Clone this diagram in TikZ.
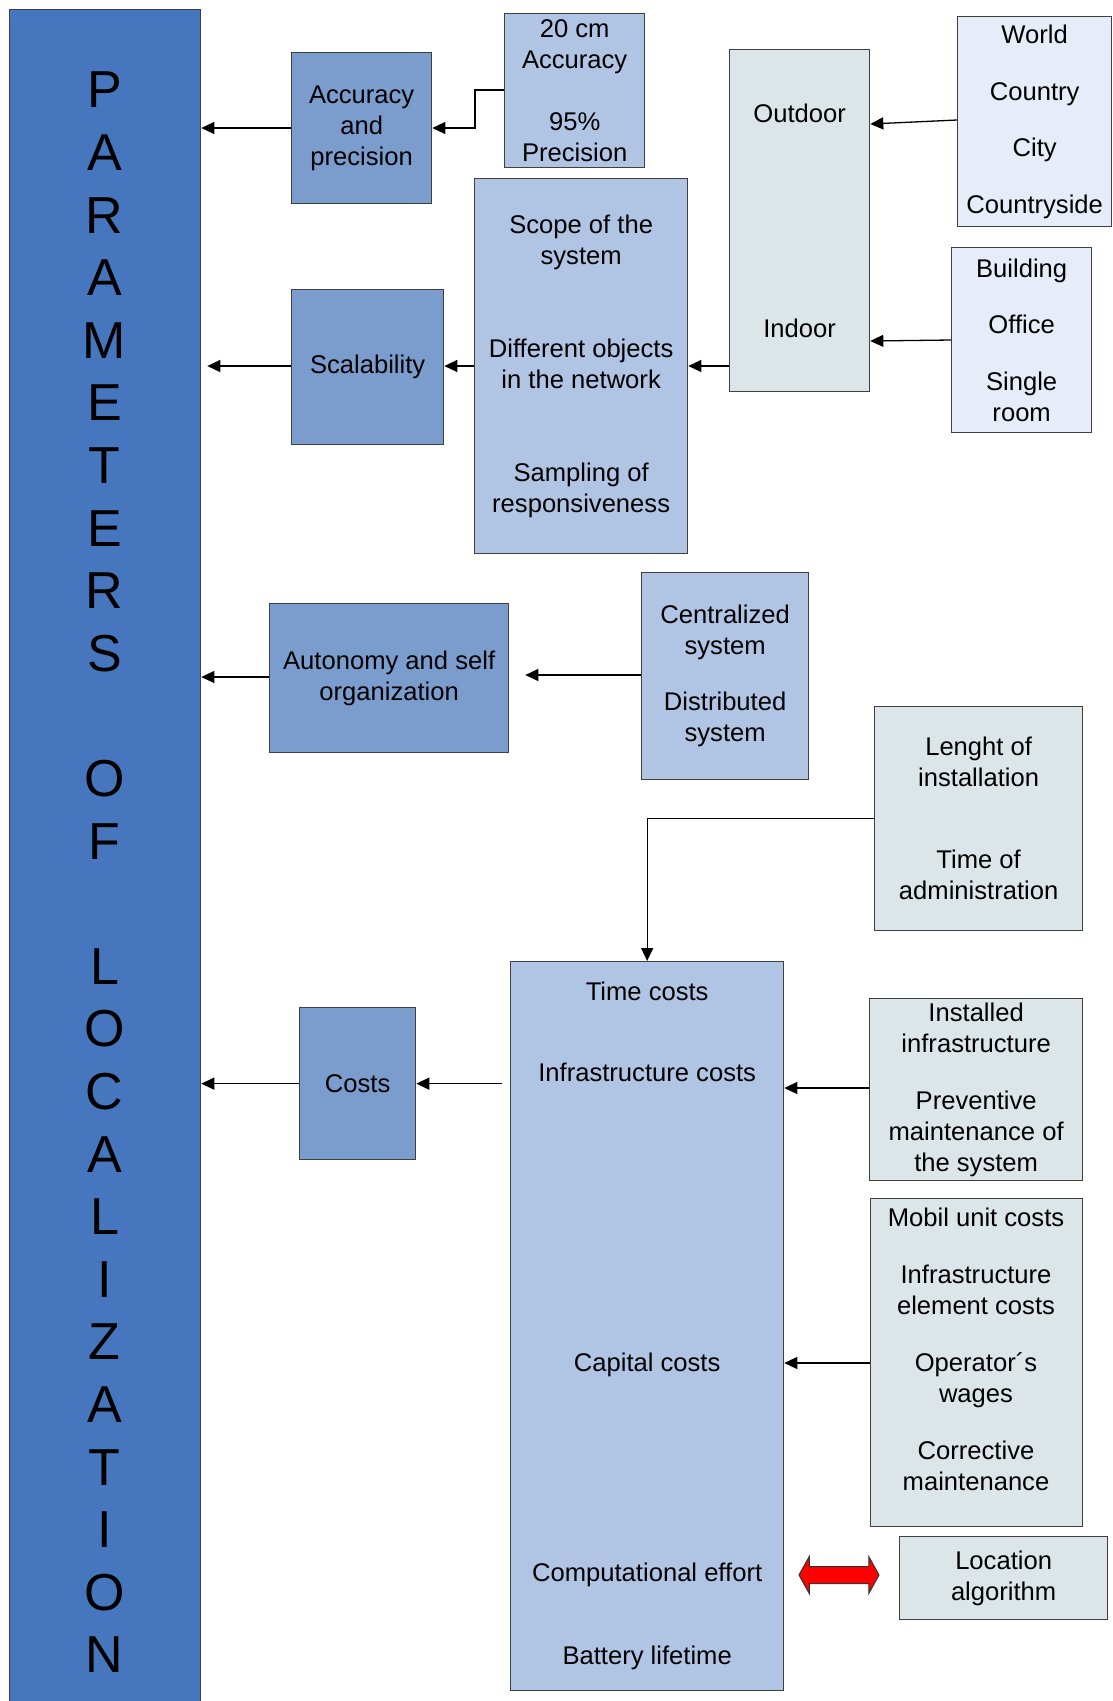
\documentclass[tikz,border=0pt]{standalone}
\usepackage{fontspec}
\setmainfont{Liberation Sans}
\usepackage{tikz}
\usetikzlibrary{arrows.meta}
\usetikzlibrary{shapes.arrows}
\definecolor{barblue}{RGB}{70,119,190}
\definecolor{midblue}{RGB}{123,157,206}
\definecolor{lightblue}{RGB}{176,196,228}
\definecolor{greyblue}{RGB}{220,230,232}
\definecolor{paleblue}{RGB}{230,236,248}

\begin{document}
\begin{tikzpicture}[x=1pt, y=-1pt,
        txt/.style={align=center, font=\fontsize{25.6}{31}\selectfont},
        box/.style={txt, draw=black!75, line width=1.3pt, anchor=north west, inner sep=0pt},
        arr/.style={-{Triangle[length=13pt,width=12pt]}, line width=1.3pt}]
        \useasboundingbox (0,0) rectangle (1113,1701);
        \node[box, fill=barblue, minimum width=191, minimum height=1700] (bar) at (9,9) {};
        \node[align=center, font=\fontsize{52}{62.6}\selectfont] (title) at (104.5,872.5) {P\\A\\R\\A\\M\\E\\T\\E\\R\\S\\~\\O\\F\\~\\L\\O\\C\\A\\L\\I\\Z\\A\\T\\I\\O\\N};
        \node[box, fill=midblue, minimum width=140, minimum height=151] (accprec) at (291,52) {Accuracy\\and\\precision};
        \node[box, fill=lightblue, minimum width=140, minimum height=154] (cm20) at (504,13) {20 cm\\Accuracy\\~\\95\%\\Precision};
        \node[box, fill=greyblue, minimum width=140, minimum height=342] (place) at (729,49) {Outdoor\\[184pt]Indoor};
        \node[box, fill=paleblue, minimum width=154, minimum height=210] (outdoor) at (957,16) {World\\[25.5pt]Country\\[25.5pt]City\\[25.5pt]Countryside};
        \node[box, fill=paleblue, minimum width=140, minimum height=185] (indoor) at (951,247) {Building\\[25.5pt]Office\\[25.5pt]Single\\room};
        \node[box, fill=lightblue, minimum width=213, minimum height=375] (scope) at (474,178) {Scope of the\\system\\[62pt]Different objects\\in the network\\[62pt]Sampling of\\responsiveness};
        \node[box, fill=midblue, minimum width=152, minimum height=155] (scal) at (291,289) {Scalability};
        \node[box, fill=midblue, minimum width=239, minimum height=149] (auton) at (269,603) {Autonomy and self\\organization};
        \node[box, fill=lightblue, minimum width=167, minimum height=207] (central) at (641,572) {Centralized\\system\\[25pt]Distributed\\system};
        \node[box, fill=greyblue, minimum width=208, minimum height=224] (admin) at (874,706) {Lenght of\\installation\\[51pt]Time of\\administration};
        \node[box, fill=lightblue, minimum width=273, minimum height=729] (costtypes) at (510,961) {Time costs\\[50pt]Infrastructure costs\\[259pt]Capital costs\\[179pt]Computational effort\\[52pt]Battery lifetime};
        \node[box, fill=midblue, minimum width=116, minimum height=152] (costs) at (299,1007) {Costs};
        \node[box, fill=greyblue, minimum width=213, minimum height=182] (infra) at (869,998) {Installed\\infrastructure\\[26pt]Preventive\\maintenance of\\the system};
        \node[box, fill=greyblue, minimum width=212, minimum height=328] (capital) at (870,1198) {};
        \node[txt] (capitaltxt) at (976,1349) {Mobil unit costs\\[26pt]Infrastructure\\element costs\\[26pt]Operator´s\\wages\\[26pt]Corrective\\maintenance};
        \node[box, fill=greyblue, minimum width=208, minimum height=83] (algo) at (899,1536) {Location\\algorithm};
        \node[double arrow, draw=black!80, fill=red, line width=1pt, inner xsep=0pt, inner ysep=8pt, minimum width=36, minimum height=80, double arrow head extend=10, double arrow tip angle=122] (link) at (839,1575) {};
        \draw[arr] (cm20.west |- 0,90) -- ++(-29,0) |- (accprec.east |- 0,128);
        \draw[arr] (accprec.west |- 0,128) -- (bar.east |- 0,128);
        \draw[arr] (outdoor.west |- 0,120) -- (place.east |- 0,124);
        \draw[arr] (indoor.west |- 0,340) -- (place.east |- 0,341);
        \draw[arr] (place.west |- 0,366) -- (scope.east |- 0,366);
        \draw[arr] (scope.west |- 0,366) -- (scal.east |- 0,366);
        \draw[arr, shorten >=6pt] (scal.west |- 0,366) -- (bar.east |- 0,366);
        \draw[arr] (auton.west |- 0,677) -- (bar.east |- 0,677);
        \draw[arr, shorten >=16pt] (central.west |- 0,675) -- (auton.east |- 0,675);
        \draw[arr] (admin.west) -| (costtypes.north);
        \draw[arr, shorten <=8pt] (costtypes.west |- costs.east) -- (costs.east);
        \draw[arr] (costs.west) -- (bar.east |- costs.west);
        \draw[arr] (infra.west |- 0,1088) -- (costtypes.east |- 0,1088);
        \draw[arr] (capital.west |- 0,1363) -- (costtypes.east |- 0,1363);
      \end{tikzpicture}
\end{document}
